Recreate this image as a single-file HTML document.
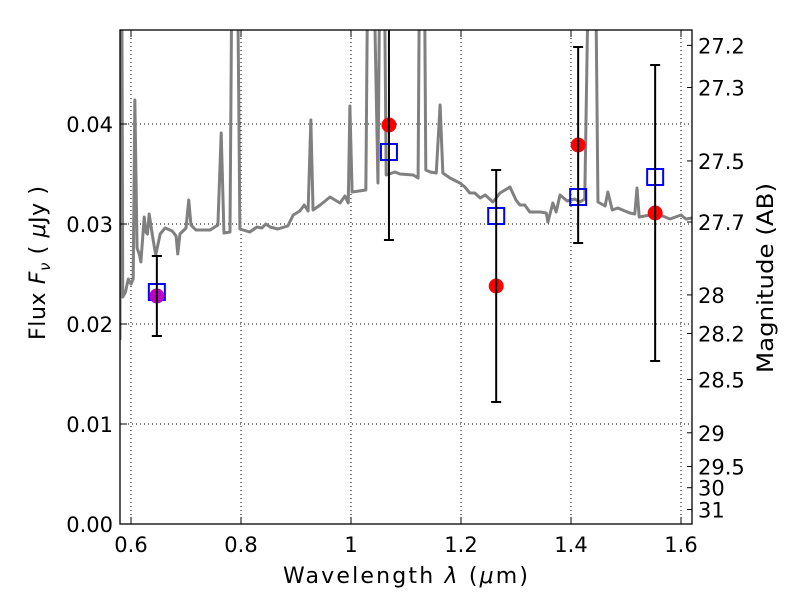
<!DOCTYPE html>
<html><head><meta charset="utf-8"><style>
body{margin:0;background:#fff}
svg{display:block;font-family:"DejaVu Sans","Liberation Sans",sans-serif}
</style></head><body>
<svg id="chart" width="800" height="600" viewBox="0 0 800 600" xmlns="http://www.w3.org/2000/svg">
<defs><clipPath id="clip"><rect x="120" y="30" width="572" height="494"/></clipPath></defs>
<rect x="0" y="0" width="800" height="600" fill="#fff"/>
<g id="grid"></g>
<g id="spec" clip-path="url(#clip)"></g>
<g id="marks" clip-path="url(#clip)"></g>
<rect x="120" y="30" width="572" height="494" fill="none" stroke="#000" stroke-width="1.3"/>
<g id="axes"></g>
<text x="283" y="583" font-size="22" textLength="245" lengthAdjust="spacing">Wavelength  <tspan font-style="italic">λ</tspan> (<tspan font-style="italic">μ</tspan>m)</text>
<text transform="translate(45,340) rotate(-90)" font-size="22" textLength="154" lengthAdjust="spacing">Flux  <tspan font-style="italic">F</tspan><tspan font-style="italic" font-size="15" dy="5">ν</tspan><tspan dy="-5">  ( </tspan><tspan font-style="italic">μ</tspan>Jy )</text>
<text transform="translate(773,373) rotate(-90)" font-size="22" textLength="190" lengthAdjust="spacingAndGlyphs">Magnitude (AB)</text>
</svg>
<script>
const xTicks=[0.6,0.8,1.0,1.2,1.4,1.6];
const xTickLabels=["0.6","0.8","1","1.2","1.4","1.6"];
const yTicks=[0,0.01,0.02,0.03,0.04];
const yTickLabels=["0.00","0.01","0.02","0.03","0.04"];
const magTicks=[27.2,27.3,27.5,27.7,28,28.2,28.5,29,29.5,30,31];
const magTickLabels=["27.2","27.3","27.5","27.7","28","28.2","28.5","29","29.5","30","31"];
const specLam=[0.580,0.581,0.583,0.585,0.590,0.595,0.600,0.604,0.607,0.611,0.615,0.618,0.624,0.627,0.630,0.633,0.640,0.645,0.653,0.662,0.675,0.682,0.685,0.689,0.700,0.705,0.709,0.718,0.744,0.758,0.764,0.769,0.780,0.784,0.793,0.798,0.816,0.829,0.838,0.845,0.853,0.867,0.885,0.895,0.907,0.915,0.922,0.927,0.931,0.944,0.962,0.980,0.989,0.995,0.998,1.002,1.027,1.031,1.040,1.049,1.053,1.060,1.064,1.080,1.089,1.113,1.122,1.125,1.133,1.136,1.144,1.155,1.162,1.167,1.180,1.198,1.207,1.216,1.225,1.235,1.244,1.258,1.271,1.289,1.300,1.307,1.316,1.325,1.344,1.355,1.358,1.367,1.373,1.380,1.393,1.407,1.416,1.425,1.433,1.444,1.449,1.462,1.467,1.475,1.485,1.498,1.507,1.516,1.520,1.524,1.544,1.562,1.580,1.600,1.609,1.620];
const specFlux=[0.0184,0.06,0.06,0.0227,0.0232,0.0245,0.0240,0.0245,0.0424,0.0276,0.0270,0.0262,0.0307,0.0292,0.0290,0.0310,0.0285,0.0269,0.0290,0.0296,0.0293,0.0288,0.0270,0.0290,0.0296,0.0324,0.0299,0.0294,0.0294,0.0299,0.0391,0.0291,0.0292,0.06,0.06,0.0295,0.0292,0.0297,0.0296,0.0300,0.0297,0.0295,0.0298,0.0309,0.0313,0.0319,0.0313,0.0404,0.0314,0.0319,0.0327,0.0321,0.0328,0.0321,0.0418,0.0332,0.0334,0.06,0.06,0.0341,0.06,0.06,0.0349,0.0352,0.0350,0.0349,0.0346,0.06,0.06,0.0354,0.0352,0.0351,0.0419,0.0351,0.0346,0.0341,0.0337,0.0331,0.0331,0.0326,0.0329,0.0322,0.0331,0.0337,0.0324,0.0319,0.0319,0.0312,0.0312,0.0311,0.0302,0.0321,0.0312,0.0329,0.0323,0.0325,0.0322,0.0325,0.06,0.06,0.0322,0.0318,0.0332,0.0314,0.0316,0.0313,0.0311,0.0310,0.0336,0.0307,0.0309,0.0309,0.0305,0.0309,0.0305,0.0306];
const obsLam=[0.647,1.069,1.264,1.413,1.553];
const obsFlux=[0.0228,0.0399,0.0238,0.0379,0.0311];
const obsErr=[0.0040,0.0115,0.0116,0.0098,0.0148];
const modelFlux=[0.0232,0.0372,0.0308,0.0327,0.0347];
const NS="http://www.w3.org/2000/svg";
const X0=120,X1=692,Y0=524,Y1=30,LMIN=0.58,LMAX=1.62,FMIN=0,FMAX=0.0494;
function sx(l){return X0+(l-LMIN)/(LMAX-LMIN)*(X1-X0);}
function sy(f){return Y0-(f-FMIN)/(FMAX-FMIN)*(Y0-Y1);}
function magToFlux(m){return Math.pow(10,(23.9-m)/2.5);}
function mk(tag,attrs,parent){const e=document.createElementNS(NS,tag);for(const k in attrs)e.setAttribute(k,attrs[k]);parent.appendChild(e);return e;}
const grid=document.getElementById('grid'),axes=document.getElementById('axes'),spec=document.getElementById('spec'),marks=document.getElementById('marks');
xTicks.forEach((t,i)=>{const x=sx(t);
 const g=mk('line',{x1:x,x2:x,y1:Y1,y2:Y0,stroke:'#000','stroke-width':1,'stroke-dasharray':'1,3'},grid);
 
 
 const a=mk('line',{x1:x,x2:x,y1:Y0,y2:Y0-7,stroke:'#000','stroke-width':1},axes);
 
 
 mk('line',{x1:x,x2:x,y1:Y1,y2:Y1+7,stroke:'#000','stroke-width':1},axes);
 const t2=mk('text',{x:x,y:552,'font-size':21,'text-anchor':'middle'},axes);t2.textContent=xTickLabels[i];
 
 
});
yTicks.forEach((t,i)=>{const y=sy(t);
 if(t>0){const g=mk('line',{x1:X0,x2:X1,y1:y,y2:y,stroke:'#000','stroke-width':1,'stroke-dasharray':'1,3'},grid);
 
 }
 mk('line',{x1:X0,x2:X0+7,y1:y,y2:y,stroke:'#000','stroke-width':1},axes);
 const t2=mk('text',{x:113,y:y+8,'font-size':21,'text-anchor':'end'},axes);t2.textContent=yTickLabels[i];
 
 
});
magTicks.forEach((m,i)=>{const y=sy(magToFlux(m));
 const a=mk('line',{x1:X1,x2:X1-5,y1:y,y2:y,stroke:'#000','stroke-width':1},axes);
 
 
 const t2=mk('text',{x:698,y:y+8,'font-size':21},axes);t2.textContent=magTickLabels[i];
 
 
});
const pl=mk('polyline',{points:specLam.map((l,i)=>sx(l)+','+sy(specFlux[i])).join(' '),fill:'none',stroke:'#808080','stroke-width':3,'stroke-linejoin':'round'},spec);


obsLam.forEach((l,i)=>{const x=sx(l);
 const sq=mk('rect',{x:x-8,y:sy(modelFlux[i])-8,width:16,height:16,fill:'none',stroke:'#0000ff','stroke-width':2},marks);
 
 
 const c=mk('circle',{cx:x,cy:sy(obsFlux[i]),r:7.5,fill:i===0?'#bf00bf':'#ff0000'},marks);
 
 
 const yt=sy(obsFlux[i]+obsErr[i]),yb=sy(obsFlux[i]-obsErr[i]);
 const e=mk('line',{x1:x,x2:x,y1:yt,y2:yb,stroke:'#000','stroke-width':2},marks);
 
 
 mk('line',{x1:x-5,x2:x+5,y1:yt,y2:yt,stroke:'#000','stroke-width':2},marks);
 mk('line',{x1:x-5,x2:x+5,y1:yb,y2:yb,stroke:'#000','stroke-width':2},marks);
});
</script>
</body></html>
